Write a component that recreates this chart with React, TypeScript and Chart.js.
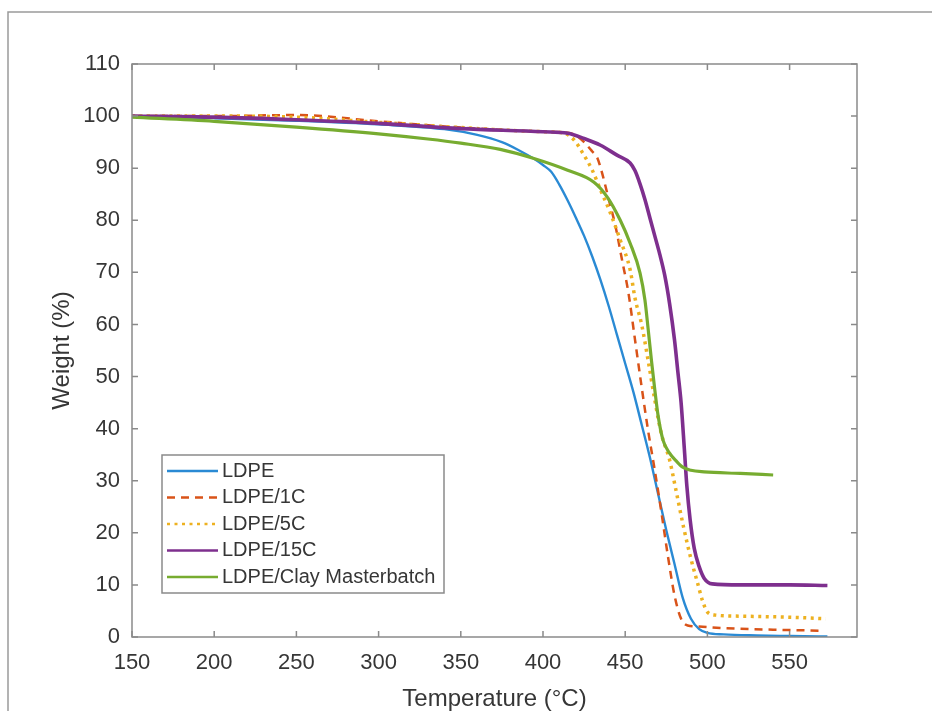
import React, { useEffect, useRef } from "react";
import { Chart, registerables } from "chart.js";

Chart.register(...registerables);

// ---- Data (temperature in °C, weight in %) ----
const tLDPE = [150, 200, 250, 300, 340, 360, 375, 385, 395, 400, 405, 410, 415, 420, 425, 430, 435, 440, 445, 450, 455, 460, 465, 470, 475, 480, 485, 490, 495, 500, 510, 530, 550, 573];
const wLDPE = [100, 99.6, 99.1, 98.4, 97.5, 96.4, 95, 93.5, 91.7, 90.6, 89.3, 86.8, 83.8, 80.5, 77, 73, 68.5, 63.5, 58, 52.5, 47, 40.8, 34.5, 27.5, 20.5, 14, 7.5, 3.5, 1.5, 0.8, 0.5, 0.3, 0.2, 0.1];

const t1C = [150, 200, 250, 300, 350, 400, 415, 420, 425, 430, 433, 436, 440, 444, 448, 452, 456, 460, 464, 468, 472, 476, 480, 484, 488, 495, 510, 540, 571];
const w1C = [100, 100, 100.2, 99, 97.8, 97, 96.8, 96.3, 95, 93.2, 92, 89, 84, 79, 72.5, 66, 57, 48, 39.5, 32, 24, 15.5, 8, 3.5, 2.2, 2, 1.7, 1.4, 1.2];

const t5C = [150, 200, 250, 300, 350, 400, 412, 417, 420, 424, 430, 435, 441, 447, 453, 456, 460, 464, 468, 472, 477, 481, 485.5, 490, 494, 497, 500, 505, 520, 550, 572];
const w5C = [100, 100, 99.8, 98.8, 97.8, 97, 96.8, 96, 95, 93, 89.6, 85.8, 81.4, 76.2, 70.5, 65, 60, 53, 45.5, 39, 34, 28, 21.1, 15, 10.4, 7, 4.8, 4.2, 4, 3.8, 3.5];

const t15C = [150, 200, 250, 300, 350, 400, 415, 425, 435, 445, 453, 456, 459, 462, 465, 468, 471, 474, 477, 480, 482, 484, 486, 487.5, 489.5, 492, 495, 498, 503, 520, 550, 573];
const w15C = [100, 99.8, 99.3, 98.6, 97.6, 97, 96.7, 95.7, 94.4, 92.5, 91, 89.5, 87, 84, 80.5, 77, 73.5, 69.5, 64, 57, 51, 45, 36, 29, 22.5, 17, 13.5, 11.3, 10.2, 10, 10, 9.9];

const tClay = [150, 200, 250, 300, 330, 350, 374, 394, 415, 431, 439, 447, 453, 459, 462, 464, 466, 468, 470, 473, 477, 481, 485, 490, 498, 520, 540];
const wClay = [99.8, 99, 97.9, 96.6, 95.6, 94.8, 93.6, 91.9, 89.6, 87.3, 84.5, 80, 75.6, 69.9, 64.7, 59, 53, 47.5, 42.5, 37.8, 35.3, 33.8, 32.6, 32, 31.7, 31.4, 31.1];

const seriesNames = ["LDPE", "LDPE/1C", "LDPE/5C", "LDPE/15C", "LDPE/Clay Masterbatch"];
const xTitle = "Temperature (°C)";
const yTitle = "Weight (%)";
const X_MIN = 150;
const X_MAX = 591;
const X_STEP = 50;
const Y_MIN = 0;
const Y_MAX = 110;
const Y_STEP = 10;

const FONT = "'Liberation Sans', Arial, Helvetica, sans-serif";
const AXIS_GRAY = "#8a8a8a";
const TEXT = "#363636";

const toPts = (t: number[], w: number[]) => t.map((x, i) => ({ x, y: w[i] }));

const decorPlugin = {
  id: "decor",
  beforeDraw(chart: any) {
    const ctx = chart.ctx;
    ctx.save();
    ctx.fillStyle = "#ffffff";
    ctx.fillRect(0, 0, chart.width, chart.height);
    // outer frame (top & left)
    ctx.strokeStyle = "#9a9a9a";
    ctx.lineWidth = 1.5;
    ctx.beginPath();
    ctx.moveTo(8, chart.height);
    ctx.lineTo(8, 12);
    ctx.lineTo(chart.width, 12);
    ctx.stroke();
    ctx.restore();
  },
  afterDatasetsDraw(chart: any) {
    const ctx = chart.ctx;
    const ca = chart.chartArea;
    const xs = chart.scales.x;
    const ys = chart.scales.y;
    ctx.save();
    ctx.strokeStyle = AXIS_GRAY;
    ctx.lineWidth = 1.5;
    ctx.strokeRect(ca.left, ca.top, ca.right - ca.left, ca.bottom - ca.top);
    const tl = 6;
    ctx.beginPath();
    xs.ticks.forEach((t: any) => {
      const px = xs.getPixelForValue(t.value);
      ctx.moveTo(px, ca.bottom);
      ctx.lineTo(px, ca.bottom - tl);
      ctx.moveTo(px, ca.top);
      ctx.lineTo(px, ca.top + tl);
    });
    ys.ticks.forEach((t: any) => {
      const py = ys.getPixelForValue(t.value);
      ctx.moveTo(ca.left, py);
      ctx.lineTo(ca.left + tl, py);
      ctx.moveTo(ca.right, py);
      ctx.lineTo(ca.right - tl, py);
    });
    ctx.stroke();

    // legend box (inside plot, lower-left)
    const bx = ca.left + 30;
    const by = ca.bottom - 182;
    const bw = 282;
    const bh = 138;
    ctx.fillStyle = "#ffffff";
    ctx.fillRect(bx, by, bw, bh);
    ctx.strokeStyle = AXIS_GRAY;
    ctx.lineWidth = 1.5;
    ctx.strokeRect(bx, by, bw, bh);
    ctx.font = `20px ${FONT}`;
    ctx.textBaseline = "middle";
    ctx.textAlign = "left";
    chart.data.datasets.forEach((ds: any, i: number) => {
      const ry = by + 16 + i * 26.5;
      ctx.save();
      ctx.strokeStyle = ds.borderColor;
      ctx.lineWidth = Math.min(ds.borderWidth, 2.6);
      ctx.setLineDash(ds.borderDash || []);
      ctx.beginPath();
      ctx.moveTo(bx + 5, ry);
      ctx.lineTo(bx + 56, ry);
      ctx.stroke();
      ctx.restore();
      ctx.fillStyle = TEXT;
      ctx.fillText(ds.label, bx + 60, ry);
    });
    ctx.restore();
  },
};

export default function App() {
  const ref = useRef<HTMLCanvasElement | null>(null);

  useEffect(() => {
    if (!ref.current) return;
    const series = [
      { t: tLDPE, w: wLDPE, color: "#2a8ad4", width: 2.4, dash: [] as number[] },
      { t: t1C, w: w1C, color: "#D95319", width: 2.5, dash: [8, 6] },
      { t: t5C, w: w5C, color: "#EDB120", width: 3.5, dash: [3, 4.5] },
      { t: t15C, w: w15C, color: "#7E2F8E", width: 3.6, dash: [] as number[] },
      { t: tClay, w: wClay, color: "#77AC30", width: 3.2, dash: [] as number[] },
    ];
    const chart = new Chart(ref.current, {
      type: "line",
      data: {
        datasets: series.map((s, i) => ({
          label: seriesNames[i],
          data: toPts(s.t, s.w),
          borderColor: s.color,
          backgroundColor: s.color,
          borderWidth: s.width,
          borderDash: s.dash,
          borderCapStyle: "butt",
          pointRadius: 0,
          fill: false,
          cubicInterpolationMode: "monotone",
          order: 5 - i,
        })) as any,
      },
      options: {
        animation: false,
        responsive: false,
        devicePixelRatio: 1,
        layout: { padding: { left: 0, top: 64, right: 75, bottom: 0 } },
        plugins: {
          legend: { display: false },
          tooltip: { enabled: false },
        },
        scales: {
          x: {
            type: "linear",
            min: X_MIN,
            max: X_MAX,
            grid: { display: false, drawTicks: false },
            border: { display: false },
            ticks: {
              stepSize: X_STEP,
              includeBounds: false,
              font: { family: FONT, size: 22 },
              color: TEXT,
              padding: 13,
              maxRotation: 0,
              autoSkip: false,
            },
            title: {
              display: true,
              text: xTitle,
              font: { family: FONT, size: 24, lineHeight: 1 },
              color: TEXT,
              padding: { top: 0, bottom: 0 },
            },
            afterFit: (scale: any) => {
              scale.height = 74;
            },
          },
          y: {
            type: "linear",
            min: Y_MIN,
            max: Y_MAX,
            grid: { display: false, drawTicks: false },
            border: { display: false },
            ticks: {
              stepSize: Y_STEP,
              font: { family: FONT, size: 22 },
              color: TEXT,
              padding: 12,
              autoSkip: false,
            },
            title: {
              display: true,
              text: yTitle,
              font: { family: FONT, size: 24, lineHeight: 1 },
              color: TEXT,
              padding: { top: 50, bottom: 0 },
            },
            afterFit: (scale: any) => {
              scale.width = 132;
            },
          },
        },
      } as any,
      plugins: [decorPlugin],
    });
    return () => chart.destroy();
  }, []);

  return (
    <div style={{ position: "absolute", left: 0, top: 0, width: 932, height: 711, background: "#fff" }}>
      <canvas ref={ref} width={932} height={711} style={{ display: "block" }} />
    </div>
  );
}
